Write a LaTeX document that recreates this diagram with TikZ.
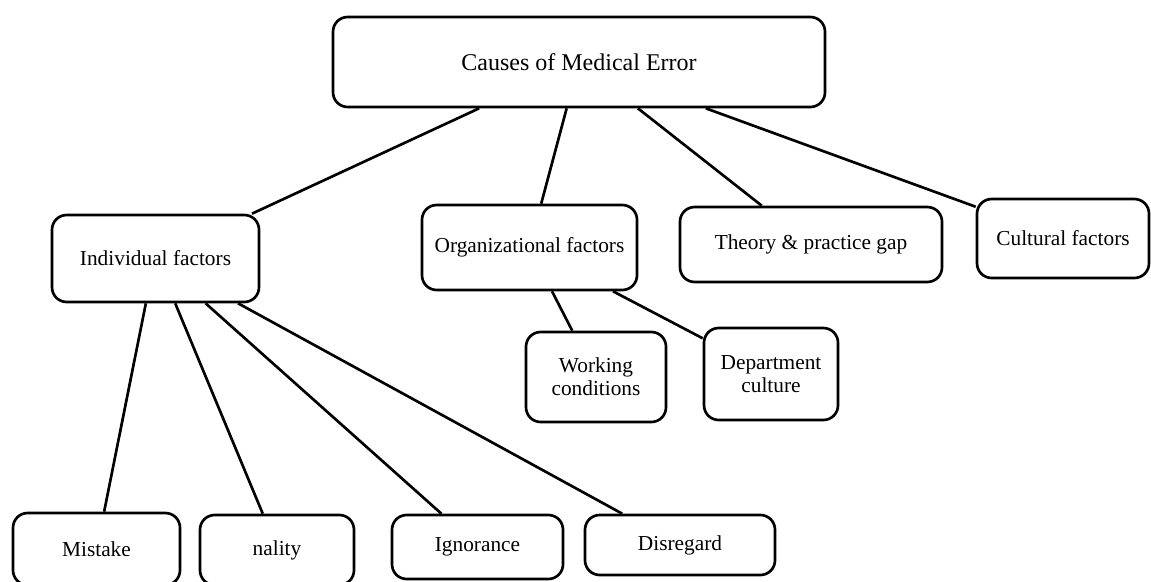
\documentclass[tikz,border=0pt]{standalone}
\usepackage{fontspec}
\setmainfont{Liberation Serif}
\usetikzlibrary{calc}

\tikzset{
  box/.style={draw=black, line width=2pt, rounded corners=11pt, fill=white,
    align=center, inner sep=0pt, font=\fontsize{16}{17.5}\selectfont},
  link/.style={draw=black, line width=2pt},
}

\begin{document}
\begin{tikzpicture}[x=0.75pt, y=-0.75pt]
  % page frame
  \path[use as bounding box, clip] (0,0) rectangle (1151,581);
  \fill[white] (0,0) rectangle (1151,581);

  % root
  \node[box, minimum width=492*0.75pt, minimum height=90*0.75pt,
        font=\fontsize{18}{20}\selectfont] (root) at (579,62) {Causes of Medical Error};

  % first level
  \node[box, minimum width=207*0.75pt, minimum height=87*0.75pt] (indiv) at (155.5,258.5) {Individual factors};
  \node[box, minimum width=215*0.75pt, minimum height=85*0.75pt] (org) at (529.5,247.5) {Organizational factors};
  \node[box, minimum width=262*0.75pt, minimum height=75*0.75pt] (theory) at (811,244.5) {Theory \& practice gap};
  \node[box, minimum width=172*0.75pt, minimum height=79*0.75pt] (cult) at (1063,238.5) {Cultural factors};

  % organizational branch
  \node[box, minimum width=140*0.75pt, minimum height=90*0.75pt] (work) at (596,377) {Working\\conditions};
  \node[box, minimum width=134*0.75pt, minimum height=92*0.75pt] (dept) at (771,374) {Department\\culture};

  % individual branch
  \node[box, minimum width=167*0.75pt, minimum height=72*0.75pt] (mist) at (96.5,549) {Mistake};
  \node[box, minimum width=154*0.75pt, minimum height=70*0.75pt] (nal) at (277,550) {nality};
  \node[box, minimum width=171*0.75pt, minimum height=64*0.75pt] (ign) at (477.5,547) {Ignorance};
  \node[box, minimum width=190*0.75pt, minimum height=60*0.75pt] (dis) at (680,545) {Disregard};

  % connectors from the root and from the organizational box
  \draw[link] (root) -- (indiv);
  \draw[link] (root) -- (org);
  \draw[link] (root) -- (theory);
  \draw[link] (root) -- (cult);
  \draw[link] (org) -- (work);
  \draw[link] (org) -- (dept);

  % connectors fanning out from the individual box
  \draw[link] ($(indiv.south west)!0.454!(indiv.south east)$) -- ($(mist.north west)!0.545!(mist.north east)$);
  \draw[link] ($(indiv.south west)!0.594!(indiv.south east)$) -- ($(nal.north west)!0.409!(nal.north east)$);
  \draw[link] ($(indiv.south west)!0.739!(indiv.south east)$) -- ($(ign.north west)!0.292!(ign.north east)$);
  \draw[link] ($(indiv.south west)!0.894!(indiv.south east)$) -- ($(dis.north west)!0.2!(dis.north east)$);
\end{tikzpicture}
\end{document}
